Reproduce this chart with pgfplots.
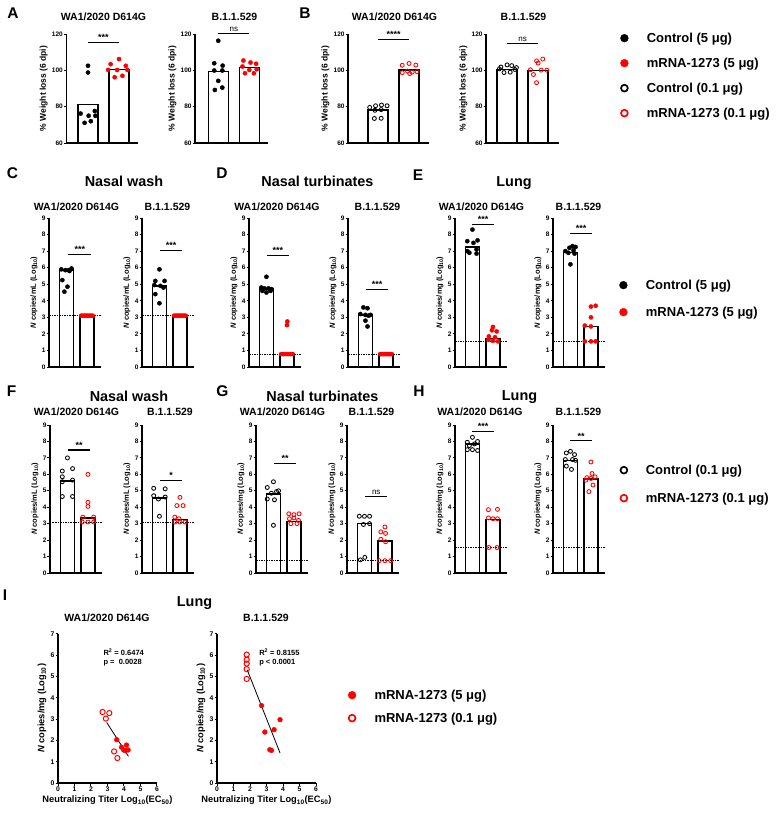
\documentclass[border=0pt]{standalone}
\usepackage{pgfplots}
\pgfplotsset{compat=1.18}
\usepackage{fontspec}
\setmainfont{Liberation Sans}
\newcommand{\fs}[1]{\fontsize{#1}{#1}\selectfont}
\newcommand{\sig}[4]{\draw[line width=1.1pt] (axis cs:#1,#3) -- (axis cs:#2,#3) node[midway, above, inner sep=1.2pt, font=\bfseries\fs{9}] {#4};}
\newcommand{\ns}[3]{\draw[line width=1.1pt] (axis cs:#1,#3) -- (axis cs:#2,#3) node[midway, above, inner sep=1.2pt, font=\fs{8}] {ns};}
\pgfplotsset{
 base/.style={scale only axis, axis lines=left, axis line style={-,line width=1.2pt}, axis on top,
   clip mode=individual, xtick=\empty, tick align=outside, major tick length=2.5pt,
   tick style={line width=1pt,black},
   yticklabel style={font=\bfseries\fs{6.5}, inner sep=0.8pt},
   /pgf/number format/assume math mode=true,
   ylabel style={font=\bfseries\fs{7.5}}},
 wl/.style={base, height=109pt, ymin=60, ymax=120, ytick={60,80,100,120},
   ylabel={\% Weight loss (6 dpi)}, ylabel style={font=\bfseries\fs{8.5}}},
 cp/.style={base, height=149pt, ymin=0, ymax=9, ytick={0,1,...,9}, xmin=-0.85, xmax=1.7, width=52.3pt},
 cpF/.style={cp, height=148pt},
 barA/.style={ybar, bar width=20pt, fill=white, draw=black, line width=1.4pt},
 barC/.style={ybar, bar width=14pt, fill=white, draw=black, line width=1.4pt},
 lod/.style={black, line width=0.5pt, dash pattern=on 1.5pt off 1pt},
 fk/.style={only marks, mark=*, mark size=2.1pt, black},
 fr/.style={only marks, mark=*, mark size=2.1pt, red},
 ok/.style={only marks, mark=o, mark size=2pt, black, mark options={line width=0.85pt}},
 or/.style={only marks, mark=o, mark size=2pt, red, mark options={line width=0.85pt}},
 lgd/.style={hide axis, scale only axis, width=10pt, height=10pt, xmin=0, xmax=1, ymin=0, ymax=1,
   legend style={at={(0,1)}, anchor=north west, draw=none, fill=none, inner sep=0pt, outer sep=0pt,
     row sep=#1, font=\bfseries\fs{13}, nodes={inner sep=0pt, text height=9.3pt, text depth=3pt},
     /tikz/every odd column/.style={column sep=18.5pt}},
   legend cell align=left,
   legend image code/.code={\draw[##1] plot coordinates {(0pt,1.5pt)};}},
}
\begin{document}
\begin{tikzpicture}
\useasboundingbox (0,0) rectangle (776pt,-816pt);
% ---------- texts ----------
\tikzset{lt/.style={font=\bfseries\fs{15.5}, anchor=base}, st/.style={font=\bfseries\fs{10.5}, anchor=base}, bt/.style={font=\bfseries\fs{14.4}, anchor=base}}
\node[lt] at (13pt,-18.3pt) {A};
\node[lt] at (305pt,-18.3pt) {B};
\node[st] at (103.5pt,-20.7pt) {WA1/2020 D614G};
\node[st] at (234.5pt,-20.7pt) {B.1.1.529};
\node[st] at (394.5pt,-20.7pt) {WA1/2020 D614G};
\node[st] at (523.5pt,-20.7pt) {B.1.1.529};
\node[lt] at (12.5pt,-178.3pt) {C};
\node[lt] at (222pt,-178.3pt) {D};
\node[lt] at (418pt,-180pt) {E};
\node[bt] at (124pt,-186.7pt) {Nasal wash};
\node[bt] at (317.5pt,-186.7pt) {Nasal turbinates};
\node[bt] at (514pt,-186.7pt) {Lung};
\node[st] at (76.5pt,-210.7pt) {WA1/2020 D614G};
\node[st] at (167.5pt,-210.7pt) {B.1.1.529};
\node[st] at (277pt,-210.7pt) {WA1/2020 D614G};
\node[st] at (377.5pt,-210.7pt) {B.1.1.529};
\node[st] at (481.5pt,-210.7pt) {WA1/2020 D614G};
\node[st] at (578.5pt,-210.7pt) {B.1.1.529};
\node[lt] at (11.5pt,-396.7pt) {F};
\node[lt] at (222.5pt,-396.7pt) {G};
\node[lt] at (419pt,-396pt) {H};
\node[bt] at (129pt,-401.7pt) {Nasal wash};
\node[bt] at (322.5pt,-401.7pt) {Nasal turbinates};
\node[bt] at (519.5pt,-400pt) {Lung};
\node[st] at (76.5pt,-415.7pt) {WA1/2020 D614G};
\node[st] at (170pt,-415.7pt) {B.1.1.529};
\node[st] at (282.5pt,-415.7pt) {WA1/2020 D614G};
\node[st] at (371.5pt,-415.7pt) {B.1.1.529};
\node[st] at (480pt,-415.7pt) {WA1/2020 D614G};
\node[st] at (578.5pt,-415.7pt) {B.1.1.529};
\node[lt] at (5pt,-600pt) {I};
\node[bt] at (194.5pt,-606.7pt) {Lung};
\node[st] at (107pt,-621.7pt) {WA1/2020 D614G};
\node[st] at (266pt,-621.7pt) {B.1.1.529};
% ---------- A ----------
\begin{axis}[wl, at={(66.3pt,-143pt)}, anchor=south west, xmin=-0.7, xmax=1.6, width=71.3pt]
\addplot[barA] coordinates {(0,81.2) (1,100.6)};
\addplot[fk] coordinates {(-0.24,76.2) (0,102.5) (0,98.8) (0.02,75) (0.22,77.6) (0.24,75) (-0.11,71.1) (0.09,72)};
\addplot[fr] coordinates {(1,106.2) (0.73,103.4) (1.22,102.5) (0.65,100.2) (0.94,100.2) (1.27,100.2) (0.86,96.2) (1.11,97)};
\sig{0}{1}{115.4}{***}
\end{axis}
\begin{axis}[wl, at={(195pt,-143pt)}, anchor=south west, xmin=-0.75, xmax=1.6, width=72.9pt]
\addplot[barA] coordinates {(0,99.4) (1,101.5)};
\addplot[fk] coordinates {(0,116.3) (-0.13,103.9) (0.14,102.6) (-0.13,99.9) (0.13,99.9) (0,94.2) (-0.11,89.2) (0.13,90.5)};
\addplot[fr] coordinates {(0.81,105.4) (1.04,104.3) (1.22,103.6) (0.78,102.1) (1,100.2) (1.24,100.6) (0.86,98.4) (1.15,98.4)};
\ns{0}{1}{120.2}
\end{axis}
% ---------- B ----------
\begin{axis}[wl, at={(348pt,-143pt)}, anchor=south west, xmin=-0.97, xmax=1.65, width=81.2pt]
\addplot[barA] coordinates {(0,78.1) (1,100.2)};
\addplot[ok] coordinates {(-0.27,79.6) (-0.08,80.5) (0.11,80.9) (0.29,80.5) (-0.1,78.0) (0.1,78.4) (-0.12,73.5) (0.1,73.6)};
\addplot[or] coordinates {(0.78,102.8) (1,103.8) (1.22,102.9) (0.78,98.7) (0.95,99.6) (1.1,99) (1.26,99.3) (1.02,98.2)};
\sig{0}{1}{117.2}{****}
\end{axis}
\begin{axis}[wl, at={(486pt,-143pt)}, anchor=south west, xmin=-0.68, xmax=1.68, width=73.2pt]
\addplot[barA] coordinates {(0,100.6) (1,100)};
\addplot[ok] coordinates {(-0.2,101.8) (0,103) (0.15,102.6) (0.3,101.5) (-0.25,100.8) (-0.1,98.8) (0.1,99) (0.25,100.5)};
\addplot[or] coordinates {(0.75,100.3) (0.95,105.2) (1.15,106.2) (1.0,104) (1.1,100.1) (1.28,100.1) (0.85,97.7) (0.95,93.2)};
\ns{0}{1}{114.8}
\end{axis}
% ---------- C ----------
\begin{axis}[cp, at={(49pt,-367pt)}, anchor=south west, ylabel={\textit{N} copies/mL  (Log\textsubscript{10})}]
\addplot[barC] coordinates {(0,5.85) (1,3.1)};
\addplot[lod] coordinates {(-0.85,3.1) (1.7,3.1)};
\addplot[fk] coordinates {(-0.25,5.9) (-0.05,5.85) (0.1,5.85) (0.25,5.95) (0.15,5.8) (-0.2,5.25) (0.05,4.85) (-0.1,4.55)};
\addplot[fr] coordinates {(0.72,3.1) (0.8,3.1) (0.88,3.1) (0.96,3.1) (1.04,3.1) (1.12,3.1) (1.2,3.1) (1.28,3.1)};
\sig{0.1}{1.2}{6.8}{***}
\end{axis}
\begin{axis}[cp, at={(142pt,-367pt)}, anchor=south west, ylabel={\textit{N} copies/mL  (Log\textsubscript{10})}]
\addplot[barC] coordinates {(0,4.9) (1,3.1)};
\addplot[lod] coordinates {(-0.85,3.1) (1.7,3.1)};
\addplot[fk] coordinates {(0,5.9) (-0.2,5.2) (0.25,5.2) (-0.25,4.95) (0.05,4.9) (0.2,4.8) (-0.2,4.4) (0,3.85)};
\addplot[fr] coordinates {(0.72,3.1) (0.8,3.1) (0.88,3.1) (0.96,3.1) (1.04,3.1) (1.12,3.1) (1.2,3.1) (1.28,3.1)};
\sig{0.05}{1.1}{7.05}{***}
\end{axis}
% ---------- D ----------
\begin{axis}[cp, at={(249pt,-367pt)}, anchor=south west, ylabel={\textit{N} copies/mg  (Log\textsubscript{10})}]
\addplot[barC] coordinates {(0,4.7) (1,0.78)};
\addplot[lod] coordinates {(-0.85,0.78) (1.7,0.78)};
\addplot[fk] coordinates {(0,5.45) (-0.25,4.8) (-0.1,4.75) (0.1,4.75) (0.25,4.7) (-0.2,4.6) (0.2,4.6) (0,4.5)};
\addplot[fr] coordinates {(1.02,2.75) (1.0,2.53) (0.72,0.78) (0.83,0.78) (0.94,0.78) (1.05,0.78) (1.16,0.78) (1.28,0.78)};
\sig{0.02}{1.1}{6.73}{***}
\end{axis}
\begin{axis}[cp, at={(348pt,-367pt)}, anchor=south west, ylabel={\textit{N} copies/mg  (Log\textsubscript{10})}]
\addplot[barC] coordinates {(0,3.15) (1,0.78)};
\addplot[lod] coordinates {(-0.85,0.78) (1.7,0.78)};
\addplot[fk] coordinates {(-0.1,3.6) (0.1,3.55) (-0.25,3.2) (0.25,3.15) (0,3.15) (0.15,3.1) (0,2.8) (0.1,2.45)};
\addplot[fr] coordinates {(0.72,0.78) (0.8,0.78) (0.88,0.78) (0.96,0.78) (1.04,0.78) (1.12,0.78) (1.2,0.78) (1.28,0.78)};
\sig{0.05}{1.1}{4.67}{***}
\end{axis}
% ---------- E ----------
\begin{axis}[cp, at={(455pt,-367pt)}, anchor=south west, ylabel={\textit{N} copies/mg  (Log\textsubscript{10})}]
\addplot[barC] coordinates {(0,7.25) (1,1.72)};
\addplot[lod] coordinates {(-0.85,1.55) (1.7,1.55)};
\addplot[fk] coordinates {(0,8.3) (-0.25,7.6) (0.25,7.65) (0.05,7.5) (-0.25,7.0) (0.2,7.1) (-0.15,6.9) (0.2,6.85)};
\addplot[fr] coordinates {(1.0,2.42) (0.95,2.22) (1.18,2.15) (0.8,1.85) (1.1,1.8) (0.78,1.65) (1.0,1.58) (1.25,1.55)};
\sig{0}{1.05}{8.6}{***}
\end{axis}
\begin{axis}[cp, at={(553pt,-367pt)}, anchor=south west, ylabel={\textit{N} copies/mg  (Log\textsubscript{10})}]
\addplot[barC] coordinates {(0,6.9) (1,2.45)};
\addplot[lod] coordinates {(-0.85,1.55) (1.7,1.55)};
\addplot[fk] coordinates {(0.1,7.3) (-0.05,7.2) (0.25,7.25) (-0.25,7.0) (0.15,7.05) (-0.1,6.9) (0.2,6.85) (0,6.2)};
\addplot[fr] coordinates {(1,3.65) (1.23,3.7) (1,3.0) (0.7,2.5) (1,2.45) (0.7,1.55) (1.23,1.55) (1,1.55)};
\sig{0}{1.05}{8.06}{***}
\end{axis}
% ---------- F ----------
\begin{axis}[cpF, at={(50pt,-573pt)}, anchor=south west, ylabel={\textit{N} copies/mL  (Log\textsubscript{10})}]
\addplot[barC] coordinates {(0,5.6) (1,3.35)};
\addplot[lod] coordinates {(-0.85,3.1) (1.7,3.1)};
\addplot[ok] coordinates {(0,7.0) (0.25,6.35) (-0.25,6.2) (-0.25,5.85) (0.25,5.65) (-0.25,5.55) (-0.25,4.65) (0.25,4.65)};
\addplot[or] coordinates {(1,6.0) (1,4.3) (1,4.05) (0.75,3.4) (1.28,3.4) (0.72,3.1) (1,3.1) (1.28,3.1)};
\sig{0.05}{1.1}{7.48}{**}
\end{axis}
\begin{axis}[cpF, at={(142pt,-573pt)}, anchor=south west, ylabel={\textit{N} copies/mL  (Log\textsubscript{10})}]
\addplot[barC] coordinates {(0,4.55) (1,3.25)};
\addplot[lod] coordinates {(-0.85,3.1) (1.7,3.1)};
\addplot[ok] coordinates {(-0.28,5.15) (0.28,5.12) (-0.28,4.7) (0.28,4.62) (-0.05,4.5) (0,3.45)};
\addplot[or] coordinates {(1,4.6) (0.85,4.1) (1.15,4.1) (0.75,3.4) (0.95,3.3) (0.75,3.1) (1.0,3.1) (1.25,3.1)};
\sig{0.05}{1.1}{5.65}{*}
\end{axis}
% ---------- G ----------
\begin{axis}[cpF, at={(256pt,-573pt)}, anchor=south west, ylabel={\textit{N} copies/mg  (Log\textsubscript{10})}]
\addplot[barC] coordinates {(0,4.8) (1,3.15)};
\addplot[lod] coordinates {(-0.85,0.75) (1.7,0.75)};
\addplot[ok] coordinates {(0,5.55) (-0.3,5.2) (0.25,5.0) (-0.1,4.85) (0.15,4.95) (-0.3,4.5) (0.05,4.45) (0,2.9)};
\addplot[or] coordinates {(0.75,3.6) (1.0,3.55) (1.25,3.6) (0.78,3.3) (1.0,3.35) (1.22,3.2) (0.85,3.0) (1.15,3.0)};
\sig{0.05}{1.1}{6.67}{**}
\end{axis}
\begin{axis}[cpF, at={(347pt,-573pt)}, anchor=south west, ylabel={\textit{N} copies/mg  (Log\textsubscript{10})}]
\addplot[barC] coordinates {(0,3.0) (1,1.95)};
\addplot[lod] coordinates {(-0.85,0.75) (1.7,0.75)};
\addplot[ok] coordinates {(-0.25,3.45) (0,3.45) (0.25,3.45) (0.25,3.0) (-0.05,2.95) (-0.2,0.8) (0.02,0.95)};
\addplot[or] coordinates {(1,2.8) (0.8,2.5) (1.03,2.41) (0.8,2.05) (1.03,1.9) (0.72,0.75) (1,0.75) (1.28,0.75)};
\ns{0.05}{1.1}{4.64}
\end{axis}
% ---------- H ----------
\begin{axis}[cpF, at={(455pt,-573pt)}, anchor=south west, ylabel={\textit{N} copies/mg  (Log\textsubscript{10})}]
\addplot[barC] coordinates {(0,7.85) (1,3.25)};
\addplot[lod] coordinates {(-0.85,1.55) (1.7,1.55)};
\addplot[ok] coordinates {(0,8.25) (-0.25,7.95) (0.25,8.0) (0.1,7.85) (-0.15,7.75) (-0.25,7.5) (0,7.5) (0.25,7.45)};
\addplot[or] coordinates {(0.78,3.85) (1.22,3.87) (0.78,3.35) (1.0,3.3) (1.22,3.3) (0.8,1.55) (1.2,1.55)};
\sig{0}{1.05}{8.59}{***}
\end{axis}
\begin{axis}[cpF, at={(553pt,-573pt)}, anchor=south west, ylabel={\textit{N} copies/mg  (Log\textsubscript{10})}]
\addplot[barC] coordinates {(0,6.85) (1,5.72)};
\addplot[lod] coordinates {(-0.85,1.55) (1.7,1.55)};
\addplot[ok] coordinates {(0,7.4) (-0.2,7.3) (0.2,7.2) (-0.25,6.9) (0.1,6.9) (0.25,6.85) (-0.2,6.5) (0.05,6.3)};
\addplot[or] coordinates {(1.0,6.75) (1.05,6.05) (0.8,5.8) (1.2,5.85) (1.0,5.75) (0.75,5.65) (1.1,5.35) (0.9,4.95)};
\sig{0}{1.05}{8.04}{**}
\end{axis}
% ---------- I ----------
\begin{axis}[base, at={(58pt,-783pt)}, anchor=south west, width=99pt, height=149.3pt,
  xmin=0, xmax=6, ymin=0, ymax=7, xtick={0,...,6}, ytick={0,...,7},
  xticklabel style={font=\bfseries\fs{6.8}, inner sep=1pt}, yticklabel style={font=\bfseries\fs{6.8}},
  xlabel={Neutralizing Titer Log\textsubscript{10}(EC\textsubscript{50})}, xlabel style={font=\bfseries\fs{9.3}},
  ylabel={\textit{N} copies/mg  (Log\textsubscript{10})}, ylabel style={font=\bfseries\fs{9.3}}]
\addplot[black, line width=0.8pt] coordinates {(2.95,2.84) (4.27,1.25)};
\addplot[fr, mark size=2.4pt] coordinates {(3.56,2.03) (3.85,1.68) (3.98,1.55) (4.15,1.78) (4.25,1.55) (4.08,1.52)};
\addplot[or, mark size=2.6pt, mark options={line width=1pt}] coordinates {(2.7,3.33) (3.11,3.28) (2.9,3.02) (3.4,1.48) (3.6,1.17)};
\node[anchor=base west, font=\bfseries\fs{7.5}, inner sep=0pt] at (axis cs:2.75,6.0) {R\textsuperscript{2} = 0.6474};
\node[anchor=base west, font=\bfseries\fs{7.5}, inner sep=0pt] at (axis cs:2.75,5.56) {p =~ 0.0028};
\end{axis}
\begin{axis}[base, at={(217pt,-783pt)}, anchor=south west, width=99pt, height=149.3pt,
  xmin=0, xmax=6, ymin=0, ymax=7, xtick={0,...,6}, ytick={0,...,7},
  xticklabel style={font=\bfseries\fs{6.8}, inner sep=1pt}, yticklabel style={font=\bfseries\fs{6.8}},
  xlabel={Neutralizing Titer Log\textsubscript{10}(EC\textsubscript{50})}, xlabel style={font=\bfseries\fs{9.3}},
  ylabel={\textit{N} copies/mg  (Log\textsubscript{10})}, ylabel style={font=\bfseries\fs{9.3}}]
\addplot[black, line width=0.8pt] coordinates {(1.83,5.31) (3.82,1.41)};
\addplot[fr, mark size=2.4pt] coordinates {(2.7,3.63) (2.9,2.39) (3.46,2.5) (3.82,2.97) (3.2,1.56) (3.3,1.53)};
\addplot[or, mark size=2.6pt, mark options={line width=1pt}] coordinates {(1.8,6.02) (1.8,5.78) (1.8,5.6) (1.8,5.34) (1.8,4.88)};
\node[anchor=base west, font=\bfseries\fs{7.5}, inner sep=0pt] at (axis cs:2.55,6.0) {R\textsuperscript{2} = 0.8155};
\node[anchor=base west, font=\bfseries\fs{7.5}, inner sep=0pt] at (axis cs:2.55,5.56) {p < 0.0001};
\end{axis}
% ---------- legends ----------
\begin{axis}[lgd=12.7pt, at={(620.5pt,-43.5pt)}, anchor=south west]
\addlegendimage{only marks, mark=*, mark size=3.9pt, black}\addlegendentry{Control (5 μg)}
\addlegendimage{only marks, mark=*, mark size=3.9pt, red}\addlegendentry{mRNA-1273 (5 μg)}
\addlegendimage{only marks, mark=o, mark size=3.4pt, black, mark options={line width=1.7pt}}\addlegendentry{Control (0.1 μg)}
\addlegendimage{only marks, mark=o, mark size=3.4pt, red, mark options={line width=1.7pt}}\addlegendentry{mRNA-1273 (0.1 μg)}
\end{axis}
\begin{axis}[lgd=14.7pt, at={(619.5pt,-290.5pt)}, anchor=south west]
\addlegendimage{only marks, mark=*, mark size=3.9pt, black}\addlegendentry{Control (5 μg)}
\addlegendimage{only marks, mark=*, mark size=3.9pt, red}\addlegendentry{mRNA-1273 (5 μg)}
\end{axis}
\begin{axis}[lgd=15.7pt, at={(620.5pt,-475.5pt)}, anchor=south west]
\addlegendimage{only marks, mark=o, mark size=3.4pt, black, mark options={line width=1.7pt}}\addlegendentry{Control (0.1 μg)}
\addlegendimage{only marks, mark=o, mark size=3.4pt, red, mark options={line width=1.7pt}}\addlegendentry{mRNA-1273 (0.1 μg)}
\end{axis}
\begin{axis}[lgd=10.7pt, at={(348.2pt,-700.5pt)}, anchor=south west]
\addlegendimage{only marks, mark=*, mark size=3.9pt, red}\addlegendentry{mRNA-1273 (5 μg)}
\addlegendimage{only marks, mark=o, mark size=3.4pt, red, mark options={line width=1.7pt}}\addlegendentry{mRNA-1273 (0.1 μg)}
\end{axis}
\end{tikzpicture}
\end{document}
